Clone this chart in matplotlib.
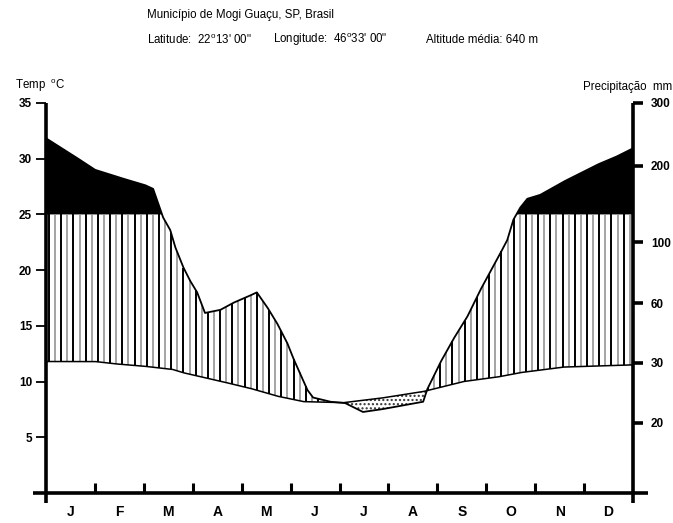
import numpy as np
import matplotlib
matplotlib.use('Agg')
import matplotlib.pyplot as plt

plt.rcParams['font.family'] = ['Liberation Sans', 'DejaVu Sans']
plt.rcParams['mathtext.fontset'] = 'custom'
plt.rcParams['mathtext.rm'] = 'Liberation Sans'
plt.rcParams['hatch.linewidth'] = 1.0

# ---------------- data ----------------
months = ['J', 'F', 'M', 'A', 'M', 'J', 'J', 'A', 'S', 'O', 'N', 'D']

# temperature curve (deg C), position in months from start of January
temp_pos = [0, 1.0, 1.39, 1.96, 2.58, 2.80, 3.50, 4.17, 4.72, 5.26, 6.07,
            6.83, 7.71, 8.53, 9.22, 9.69, 10.57, 11.33, 12.0]
temp_val = [11.8, 11.8, 11.6, 11.4, 11.1, 10.8, 10.1, 9.4, 8.7, 8.2, 8.1,
            8.5, 9.1, 10.0, 10.4, 10.8, 11.3, 11.4, 11.5]

# precipitation curve (mm), position in months from start of January
prec_pos = [0, 0.55, 1.0, 1.49, 2.02, 2.19, 2.39, 2.54, 2.64, 2.80, 2.94, 3.09,
            3.25, 3.56, 3.82, 4.11, 4.31, 4.52, 4.72, 4.93, 5.05, 5.19, 5.34, 5.46,
            5.81, 6.11, 6.48, 6.83, 7.71, 7.79, 8.06, 8.32, 8.61, 8.88, 9.08, 9.29,
            9.43, 9.55, 9.69, 9.84, 10.10, 10.57, 11.27, 11.64, 12.0]
prec_val = [244, 217, 195, 185, 175, 170, 133, 116, 97, 84, 75, 67,
            55, 56.5, 60, 64, 67, 58, 50, 40, 32.5, 28.3, 25.5, 24.2,
            23.5, 23.3, 21.8, 22.2, 23.5, 25.5, 30, 41.5, 53, 68.6, 80.4, 92.9,
            103, 129, 145, 157, 162, 179, 202, 214, 228]

temp_ticks = [5, 10, 15, 20, 25, 30, 35]
prec_ticks = [20, 30, 60, 100, 200, 300]
# where the precipitation ticks sit on the temperature scale
prec_tick_temp = [6.3, 11.7, 17.05, 22.5, 29.35, 35.0]

humid_limit = 25  # above this the precipitation area is solid black

# ---------------- scale mapping ----------------
_mm = np.array([-10] + prec_ticks + [600], dtype=float)
_tt = np.array([-10] + prec_tick_temp + [50], dtype=float)


def p2t(p):
    return np.interp(p, _mm, _tt)


def t2p(t):
    return np.interp(t, _tt, _mm)


fig = plt.figure(figsize=(6.73, 5.23), dpi=100)
ax = fig.add_axes([46 / 673, 30 / 523, 587 / 673, 390 / 523])
ax.set_xlim(0, 12)
ax.set_ylim(0, 35)

xf = np.linspace(0, 12, 2401)
tf = np.interp(xf, temp_pos, temp_val)
pf = np.interp(xf, prec_pos, p2t(np.array(prec_val, dtype=float)))

# black area above humid limit
ax.fill_between(xf, humid_limit, pf, where=pf > humid_limit, interpolate=True,
                color='black', lw=0, zorder=2)
# dry period dotted
ax.fill_between(xf, pf, tf, where=pf < tf, interpolate=True, facecolor='white',
                edgecolor='#333333', hatch='....', lw=0, zorder=2)

# vertical hatching for humid period
xs = np.arange(0.06, 12, 0.125)
lo = np.interp(xs, temp_pos, temp_val)
hi = np.minimum(np.interp(xs, xf, pf), humid_limit)
m = hi > lo
cols = ['black' if i % 2 == 0 else '#8c8c8c' for i in range(len(xs))]
widths = [1.4 if i % 2 == 0 else 1.1 for i in range(len(xs))]
ax.vlines(xs[m], lo[m], hi[m], colors=np.array(cols)[m],
          linewidths=np.array(widths)[m], zorder=3)

ax.plot(xf, pf, color='black', lw=1.3, zorder=4)
ax.plot(xf, tf, color='black', lw=1.1, zorder=4)

# frame
for s in ax.spines.values():
    s.set_visible(False)
kw = dict(transform=ax.transAxes, color='black', lw=2.6, clip_on=False,
          solid_capstyle='butt', zorder=5)
ax.plot([-0.022, 1.026], [0, 0], **kw)
ax.plot([0, 0], [-0.026, 1.0], **kw)
ax.plot([1, 1], [-0.026, 1.0], **kw)

# left axis
ax.set_yticks(temp_ticks)
ax.set_yticklabels([str(t) for t in temp_ticks], fontweight='bold', fontsize=8.5)
ax.tick_params(axis='y', direction='out', length=7, width=1.3, pad=3)

# right axis (precipitation)
sec = ax.secondary_yaxis('right', functions=(t2p, p2t))
sec.set_yticks(prec_ticks)
sec.set_yticklabels([str(p) for p in prec_ticks], fontweight='bold', fontsize=8.5)
sec.tick_params(direction='out', length=7, width=2.6, pad=6)
for s in sec.spines.values():
    s.set_visible(False)

# bottom axis
ax.set_xticks(range(1, 12))
ax.set_xticks(np.arange(0.5, 12, 1), minor=True)
ax.set_xticklabels([], minor=False)
ax.set_xticklabels(months, minor=True, fontweight='bold', fontsize=10)
ax.tick_params(axis='x', which='major', direction='in', length=7.5, width=2.2)
ax.tick_params(axis='x', which='minor', length=0, pad=9)

# texts
fig.text(147 / 673, 1 - 15 / 523, 'Município de Mogi Guaçu, SP, Brasil',
         fontsize=8.3, va='center', ha='left')
y2 = 1 - 40 / 523
fig.text(147 / 673, y2, "Latitude:  22$^{\\mathrm{o}}$13' 00\"", fontsize=8.3,
         va='center', ha='left')
fig.text(273 / 673, y2, "Longitude:  46$^{\\mathrm{o}}$33' 00\"", fontsize=8.3,
         va='center', ha='left')
fig.text(426 / 673, y2, 'Altitude média: 640 m', fontsize=8.3, va='center',
         ha='left')
fig.text(15 / 673, 1 - 86 / 523, "Temp  $^{\\mathrm{o}}$C", fontsize=8.3,
         va='center', ha='left')
fig.text(672 / 673, 1 - 87 / 523, 'Precipitação  mm', fontsize=8.3,
         va='center', ha='right')

fig.savefig('out.png', dpi=100)
